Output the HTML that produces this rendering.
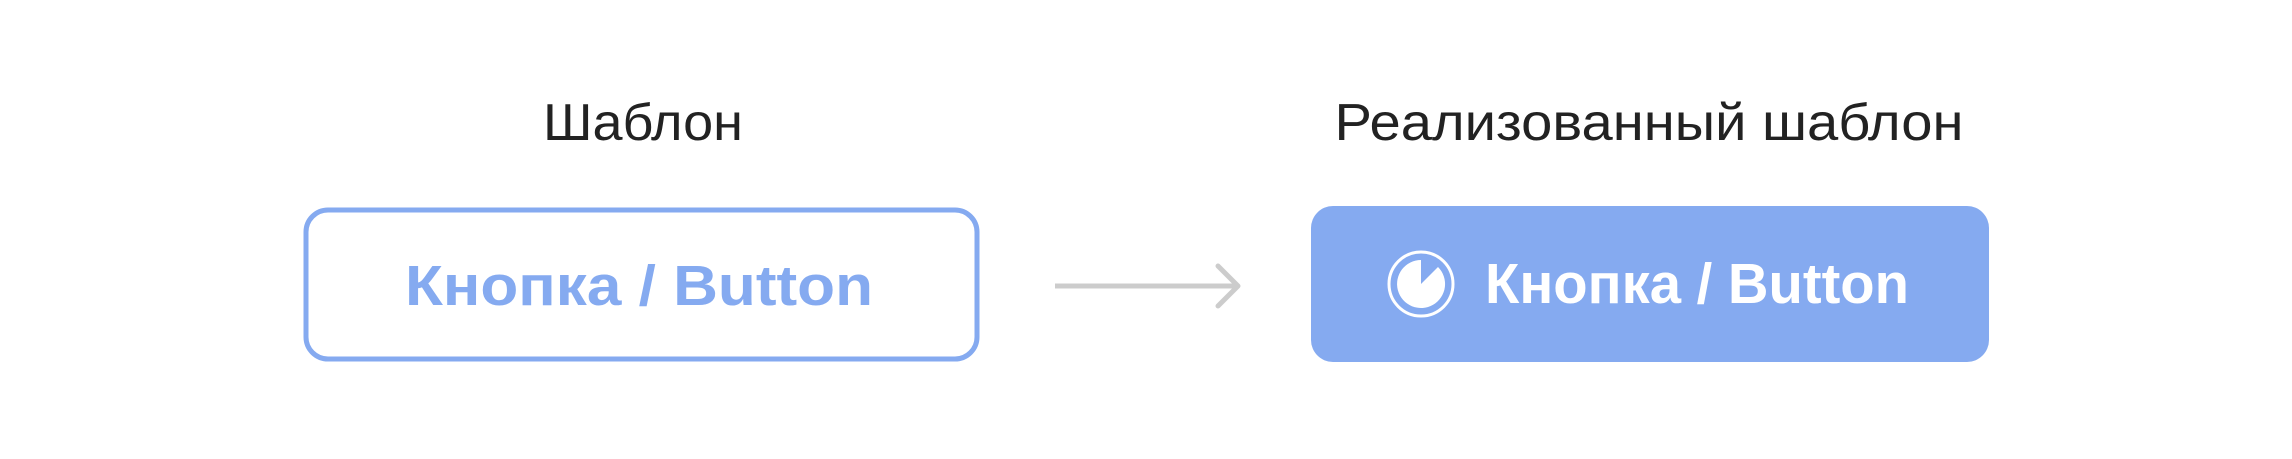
<!DOCTYPE html>
<html><head><meta charset="utf-8"><style>html,body{margin:0;padding:0;background:#fff}svg{display:block}</style></head>
<body>
<svg width="2292" height="459" viewBox="0 0 2292 459" xmlns="http://www.w3.org/2000/svg" font-family="'Liberation Sans', 'DejaVu Sans', sans-serif">
<rect width="2292" height="459" fill="#fff"/>
<text x="643" y="140" font-size="52" fill="#222" text-anchor="middle" textLength="200" lengthAdjust="spacingAndGlyphs">Шаблон</text>
<text x="1649" y="140" font-size="52" fill="#222" text-anchor="middle" textLength="629" lengthAdjust="spacingAndGlyphs">Реализованный шаблон</text>
<rect x="306" y="210" width="671" height="149" rx="22" fill="#fff" stroke="#85aaf0" stroke-width="5"/>
<text x="639" y="305" font-size="57" font-weight="bold" fill="#85aaf0" text-anchor="middle" textLength="468" lengthAdjust="spacingAndGlyphs">Кнопка / Button</text>
<line x1="1055" y1="286" x2="1236" y2="286" stroke="#ccc" stroke-width="5"/>
<polyline points="1218,266 1238,286 1218,306" fill="none" stroke="#ccc" stroke-width="5" stroke-linecap="round" stroke-linejoin="round"/>
<rect x="1311" y="206" width="678" height="156" rx="22" fill="#85aaf0"/>
<circle cx="1421" cy="284" r="32" fill="none" stroke="#fff" stroke-width="3"/>
<path d="M1421,284 L1421,260 A24,24 0 1 0 1438,267 Z" fill="#fff"/>
<text x="1697" y="303" font-size="57" font-weight="bold" fill="#fff" text-anchor="middle" textLength="424" lengthAdjust="spacingAndGlyphs">Кнопка / Button</text>
</svg>
</body></html>
